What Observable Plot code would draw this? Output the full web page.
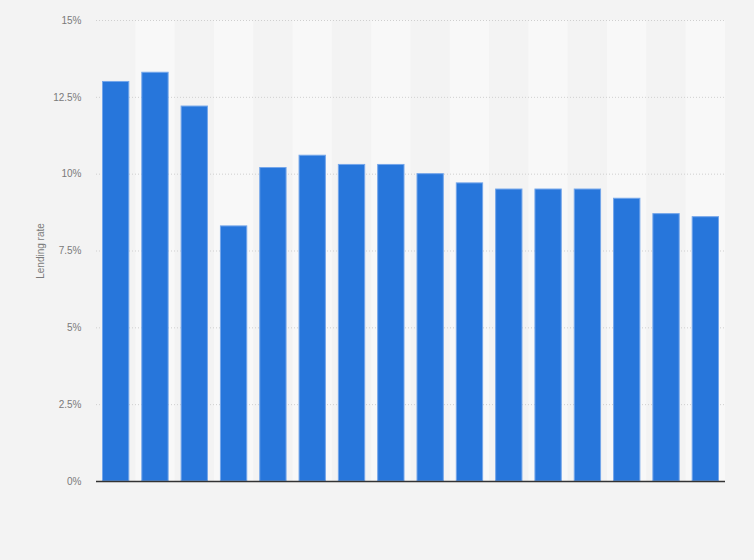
<!DOCTYPE html>
<html>
<head>
<meta charset="utf-8">
<script src="https://cdn.jsdelivr.net/npm/d3@7"></script>
<script src="https://cdn.jsdelivr.net/npm/@observablehq/plot@0.6"></script>
<style>
  html, body { margin: 0; padding: 0; background: #f3f3f3; }
  #chart { width: 754px; height: 560px; }
</style>
</head>
<body>
<div id="chart"></div>
<script>
const categories = ["2005","2006","2007","2008","2009","2010","2011","2012","2013","2014","2015","2016","2017","2018","2019","2020"];
const rates = [13.0, 13.3, 12.2, 8.3, 10.2, 10.6, 10.3, 10.3, 10.0, 9.7, 9.5, 9.5, 9.5, 9.2, 8.7, 8.6];
const yTicks = [0, 2.5, 5, 7.5, 10, 12.5, 15];
const yLabel = "Lending rate";

const data = categories.map((c, i) => ({category: c, rate: rates[i], i}));
const bands = data.filter(d => d.i % 2 === 1).map(d => ({category: d.category, top: 15}));

const chart = Plot.plot({
  width: 754,
  height: 560,
  marginLeft: 96,
  marginRight: 29,
  marginTop: 20,
  marginBottom: 79,
  style: {background: "#f3f3f3", fontFamily: "'Liberation Sans', Arial, sans-serif", fontSize: "10px", color: "#7a7a7a"},
  x: {domain: categories, padding: 0, round: false, axis: null},
  y: {domain: [0, 15], ticks: yTicks, tickFormat: d => d + "%", label: yLabel,
      labelAnchor: "center", labelArrow: "none", labelOffset: 60, tickSize: 0, tickPadding: 15},
  marks: [
    Plot.barY(bands, {x: "category", y: "top", fill: "#f8f8f8"}),
    Plot.gridY(yTicks.filter(t => t > 0), {stroke: "#cfcfcf", strokeOpacity: 1, strokeDasharray: "1,2", strokeWidth: 1}),
    Plot.barY(data, {x: "category", y: "rate", fill: "#2776db", stroke: "#74a6ea", strokeWidth: 1, insetLeft: 6.5, insetRight: 6.5}),
    Plot.ruleY([0], {stroke: "#333", strokeWidth: 1.5})
  ]
});
document.getElementById("chart").appendChild(chart);
</script>
</body>
</html>
